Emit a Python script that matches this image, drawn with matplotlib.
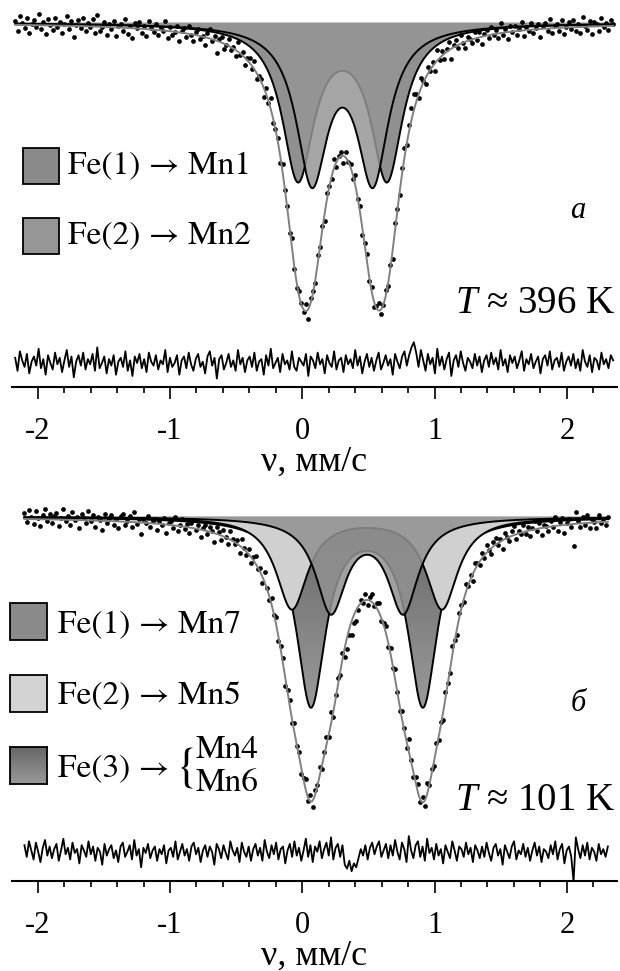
import numpy as np
import matplotlib.pyplot as plt
from matplotlib.patches import Rectangle
from matplotlib.ticker import MultipleLocator
from matplotlib.colors import LinearSegmentedColormap

plt.rcParams['font.family'] = ['Liberation Serif', 'DejaVu Serif']
plt.rcParams['mathtext.fontset'] = 'custom'
plt.rcParams['mathtext.rm'] = 'Liberation Serif'
plt.rcParams['mathtext.it'] = 'Liberation Serif:italic'

# velocity range of the channels, mm/s
v_range_a = (-2.17, 2.35)
v_range_b = (-2.10, 2.31)

# doublets: line 1, line 2 (mm/s), half width (mm/s), depth of one line
fe1_a = [-0.032, 0.640, 0.145, 0.153]
fe2_a = [0.073, 0.534, 0.1435, 0.152]
fe1_b = [0.217, 0.763, 0.139, 0.0924]
fe2_b = [-0.078, 1.056, 0.145, 0.0915]
fe3_b = [0.066, 0.912, 0.134, 0.1865]

# deviations of the counts from the fit, 1e-3 of the base line
noise_a = [4, -6, 9, 2, -3, 7, -8, 1, 5, -2, 11, -4, 3, -9, 6, 0, -5, 8, -1, 4,
           -7, 2, 10, -3, 5, -11, 1, 6, -2, 8, -5, 3, -1, 7, -6, 12, -4, 0, 5, -8,
           3, -2, 6, -9, 1, 4, -3, 9, -6, 2, -10, 5, 0, 7, -4, 3, -7, 8, 1, -2,
           6, -5, 2, -1, 10, -7, 4, -3, 0, 6, -9, 2, 5, -4, 8, -1, -6, 3, 7, -3,
           1, -8, 5, 9, -2, 4, -12, 3, 6, -5, 0, 7, -3, 2, -6, 10, -1, 4, -7, 2,
           5, -3, 8, -6, 1, 3, -9, 6, -2, 11, -4, 0, 4, -7, 7, -1, 2, -5, 9, -3,
           -6, 4, 1, -2, 7, -10, 5, 2, -4, 8, -1, 3, -8, 6, 0, -3, 9, -5, 2, 4,
           -7, 6, -1, 3, -4, 10, -2, 5, -8, 1, 7, -3, 4, -6, 2, 8, -5, 0, 6, -2,
           3, -9, 7, 1, -4, 5, 9, -2, 6, 12, 16, 8, -3, 10, 2, -6, 7, -1, 4, -8,
           11, -2, 5, -5, 3, 8, -10, 2, 6, -3, 9, 0, -6, 4, 1, -4, 7, -2, 5, -7,
           2, 6, -3, 8, -1, 4, -5, 10, -2, 3, -7, 6, 0, 5, -4, 2, 9, -6, 3, -1,
           7, -4, 1, 5, -8, 3, 6, -2, 9, -5, 2, 4, -3, 8, -6, 1, 5, -2, 7, -4,
           3, -6, 10, 1, -3, 6, -7, 4, 2, -5, 8, -1, 3, -4, 6, 2]
noise_b = [6, -3, 9, 2, -5, 8, 1, -7, 4, 10, -2, 5, -4, 3, 7, -6, 2, 11, -1, 4,
           -5, 8, 0, 3, -8, 6, 2, -3, 9, -1, 5, -6, 4, 1, -9, 7, -2, 3, 6, -4,
           2, -7, 5, 8, -3, 1, 6, -5, 10, -2, 3, -11, 4, 0, 7, -4, 2, 5, -6, 3,
           -1, 6, -8, 2, 4, -3, 9, -5, 1, 7, -2, 3, -6, 5, 8, -1, 4, -7, 2, 6,
           -3, 5, 1, -9, 7, 3, -4, 6, 0, -5, 9, 2, -2, 4, -7, 8, 1, -3, 5, -6,
           3, 7, -2, 4, -6, 10, 1, -4, 6, -1, 8, -5, 3, 5, -8, 2, 7, -3, 9, -2,
           4, -6, 2, 11, -3, 6, -7, 5, 1, 9, -4, 3, 8, -2, 12, -5, 4, 7, -3, 6,
           -9, -12, -6, -14, -8, -11, -4, 3, -2, 6, -5, 4, 8, -1, 5, 9, -3, 2, 7, -4,
           6, -2, 10, 1, -5, 8, 3, -7, 13, 2, -4, 6, 9, -3, 5, -6, 11, 0, 4, -5,
           7, -2, 3, -8, 6, 1, -4, 9, 2, -6, 5, 3, -3, 8, -1, 4, -7, 6, 2, -4,
           5, -3, 8, 0, -6, 4, 7, -2, 3, -9, 6, 1, -4, 5, 9, -5, 2, -1, 7, -3,
           4, -6, 2, 8, -2, 5, -7, 3, 1, -4, 6, -1, 9, -5, 3, 7, -8, 2, 5, -3,
           -22, 12, 3, -4, 6, -2, 8, -5, 4, 1, -6, 7, -1, 3, -3, 5]

x_ticks = [-2, -1, 0, 1, 2]
x_label = 'ν, мм/с'
legend_a = ['Fe(1) → Mn1', 'Fe(2) → Mn2']
legend_b = ['Fe(1) → Mn7', 'Fe(2) → Mn5', 'Fe(3) →']
temp_a = r'$T$ ≈ 396 K'
temp_b = r'$T$ ≈ 101 K'
leg_font = ['STIXGeneral', 'Liberation Serif']

W, H = 620, 971


def fx(px):
    return px / W


def fy(py):
    return 1 - py / H


def doublet(v, p):
    c1, c2, g, h = p
    return h * g**2 / ((v - c1)**2 + g**2) + h * g**2 / ((v - c2)**2 + g**2)


def setup_axis(ax):
    ax.set_xlim(-2.194, 2.379)
    ax.set_ylim(0.6357, 1.0197)
    for s in ['top', 'left', 'right']:
        ax.spines[s].set_visible(False)
    ax.spines['bottom'].set_linewidth(1.5)
    ax.set_yticks([])
    ax.set_xticks(x_ticks)
    ax.set_xticklabels([str(t) for t in x_ticks])
    ax.xaxis.set_minor_locator(MultipleLocator(0.2))
    ax.tick_params(axis='x', which='major', direction='out', length=8.5, width=1.2,
                   labelsize=22, pad=13)
    ax.tick_params(axis='x', which='minor', direction='out', length=4.3, width=1.2)
    ax.set_xlabel(x_label, fontsize=26, labelpad=0)


def fill_doublet(ax, v, p, color, alpha=1.0):
    curve = 1 - doublet(v, p)
    poly = ax.fill_between(v, 1, curve, facecolor=color, edgecolor='none', alpha=alpha, zorder=2)
    ax.plot(v, curve, color='black', lw=1.4, zorder=2)
    return poly


def spectrum(ax, v_range, noise, comps, res_level):
    v = np.linspace(v_range[0], v_range[1], len(noise))
    vf = np.linspace(v_range[0], v_range[1], 1200)
    total = 1 - sum(doublet(v, p) for p in comps)
    total_f = 1 - sum(doublet(vf, p) for p in comps)
    dev = np.array(noise) * 1e-3
    ax.plot(v, total + dev, 'o', ms=3.4, mew=0, color='black', zorder=4)
    ax.plot(vf, total_f, color='#808080', lw=1.4, zorder=5)
    ax.plot(v, res_level + 1.3 * dev, color='black', lw=1.3, zorder=5)
    return vf


fig = plt.figure(figsize=(W / 100, H / 100), dpi=100)

# panel a
ax1 = fig.add_axes([fx(12), fy(387), fx(605), 384 / H])
vf = np.linspace(v_range_a[0], v_range_a[1], 1200)
fill_doublet(ax1, vf, fe1_a, '#909090')
fill_doublet(ax1, vf, fe2_a, '#959595', alpha=0.85)
spectrum(ax1, v_range_a, noise_a, [fe1_a, fe2_a], 0.6597)
setup_axis(ax1)

# panel b
ax2 = fig.add_axes([fx(12), fy(881), fx(605), 384 / H])
vf = np.linspace(v_range_b[0], v_range_b[1], 1200)
c3 = 1 - doublet(vf, fe3_b)
poly = ax2.fill_between(vf, 1, c3, facecolor='none', edgecolor='none')
grad = np.linspace(0, 1, 256).reshape(-1, 1)
cmap_fe3 = LinearSegmentedColormap.from_list('fe3', ['#666666', '#9a9a9a'])
im = ax2.imshow(grad, extent=(vf[0], vf[-1], c3.min(), 1), origin='upper',
                aspect='auto', cmap=cmap_fe3, zorder=2)
im.set_clip_path(poly.get_paths()[0], transform=ax2.transData)
ax2.plot(vf, c3, color='black', lw=1.4, zorder=2)
fill_doublet(ax2, vf, fe2_b, '#d0d0d0')
fill_doublet(ax2, vf, fe1_b, '#919191', alpha=0.86)
spectrum(ax2, v_range_b, noise_b, [fe1_b, fe2_b, fe3_b], 0.6637)
setup_axis(ax2)

# legends
for i, (lab, col) in enumerate(zip(legend_a, ['#8a8a8a', '#969696'])):
    yc = 166 + i * 70
    fig.add_artist(Rectangle((fx(23), fy(yc + 18)), fx(36), 36 / H, transform=fig.transFigure,
                             facecolor=col, edgecolor='black', lw=1.3))
    fig.text(fx(68), fy(yc), lab, fontsize=24, va='center', ha='left', family=leg_font)

for i, (lab, col) in enumerate(zip(legend_b, ['#8a8a8a', '#d3d3d3', None])):
    yc = 622 + i * 72
    if col is None:
        sq = fig.add_axes([fx(10), fy(yc + 18), fx(37), 37 / H])
        sq.imshow(grad, aspect='auto', cmap=cmap_fe3, origin='upper')
        sq.set_xticks([])
        sq.set_yticks([])
        for s in sq.spines.values():
            s.set_linewidth(1.3)
    else:
        fig.add_artist(Rectangle((fx(10), fy(yc + 18)), fx(37), 37 / H, transform=fig.transFigure,
                                 facecolor=col, edgecolor='black', lw=1.3))
    fig.text(fx(58), fy(yc + 3), lab, fontsize=24, va='center', ha='left', family=leg_font)

fig.text(fx(187), fy(769), '{', fontsize=34, va='center', ha='center', family=leg_font)
fig.text(fx(196), fy(750), 'Mn4', fontsize=24, va='center', ha='left', family=leg_font)
fig.text(fx(196), fy(783), 'Mn6', fontsize=24, va='center', ha='left', family=leg_font)

fig.text(fx(578), fy(210), 'а', fontsize=22, style='italic', ha='center', va='center')
fig.text(fx(578), fy(703), 'б', fontsize=22, style='italic', ha='center', va='center')
fig.text(fx(615), fy(303), temp_a, fontsize=28, ha='right', va='center')
fig.text(fx(615), fy(800), temp_b, fontsize=28, ha='right', va='center')

fig.savefig('out.png', dpi=100)
